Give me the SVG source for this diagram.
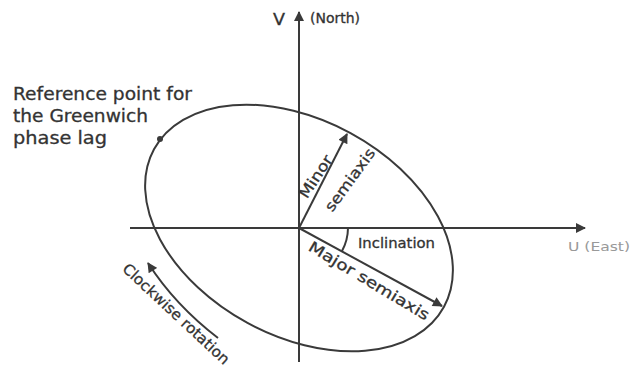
<svg xmlns="http://www.w3.org/2000/svg" width="632" height="372" viewBox="0 0 632 372">
<style>
.ln{stroke:#3a3a3a;stroke-width:2;fill:none}
.t{font-family:"DejaVu Sans","Liberation Sans",sans-serif;fill:#333;stroke:#333;stroke-width:0.3}
</style>
<defs>
<marker id="ah" viewBox="0 0 10 10" refX="9" refY="5" markerWidth="6" markerHeight="5" orient="auto" markerUnits="strokeWidth">
<path d="M0,0 L10,5 L0,10 z" fill="#3a3a3a"/>
</marker>
</defs>
<rect width="632" height="372" fill="#fff"/>
<g id="connectors">
<line class="ln" x1="299" y1="362" x2="299" y2="12" marker-end="url(#ah)"/>
<line class="ln" x1="130" y1="228" x2="585" y2="228" marker-end="url(#ah)"/>
<line class="ln" x1="299" y1="228" x2="442" y2="306" marker-end="url(#ah)"/>
<line class="ln" x1="299" y1="228" x2="347" y2="134" marker-end="url(#ah)"/>
<path class="ln" d="M348,228 A49,49 0 0 1 342,251" stroke-width="1.5"/>
<path class="ln" d="M218,338 Q175,305 148,263" marker-end="url(#ah)"/>
</g>
<g id="ellipse">
<ellipse class="ln" cx="299" cy="228" rx="165" ry="108" transform="rotate(28.5 299 228)"/>
<circle cx="160" cy="139" r="3" fill="#3a3a3a"/>
</g>
<g id="labels">
<text class="t" x="273" y="25" font-size="15" textLength="12" lengthAdjust="spacingAndGlyphs">V</text>
<text class="t" x="310" y="23" font-size="13.5" textLength="50" lengthAdjust="spacingAndGlyphs">(North)</text>
<text x="568" y="251" font-size="13" fill="#999" font-family="DejaVu Sans,sans-serif" textLength="62" lengthAdjust="spacingAndGlyphs">U (East)</text>
<text class="t" font-size="17"><tspan x="13" y="100" textLength="179" lengthAdjust="spacingAndGlyphs">Reference point for</tspan><tspan x="13" y="122" textLength="135" lengthAdjust="spacingAndGlyphs">the Greenwich</tspan><tspan x="13" y="144" textLength="94" lengthAdjust="spacingAndGlyphs">phase lag</tspan></text>
<text class="t" x="358" y="248" font-size="14" textLength="77" lengthAdjust="spacingAndGlyphs">Inclination</text>
<text class="t" font-size="15" transform="translate(321,180) rotate(-57)" text-anchor="middle" y="-1" textLength="48" lengthAdjust="spacingAndGlyphs">Minor</text>
<text class="t" font-size="15" transform="translate(350,180) rotate(-54)" text-anchor="middle" y="5" textLength="74" lengthAdjust="spacingAndGlyphs">semiaxis</text>
<text class="t" font-size="15" transform="translate(369,281) rotate(31)" text-anchor="middle" y="5" textLength="138" lengthAdjust="spacingAndGlyphs">Major semiaxis</text>
<text class="t" font-size="15" transform="translate(176,314) rotate(43)" text-anchor="middle" y="5" textLength="140" lengthAdjust="spacingAndGlyphs">Clockwise rotation</text>
</g>
</svg>
